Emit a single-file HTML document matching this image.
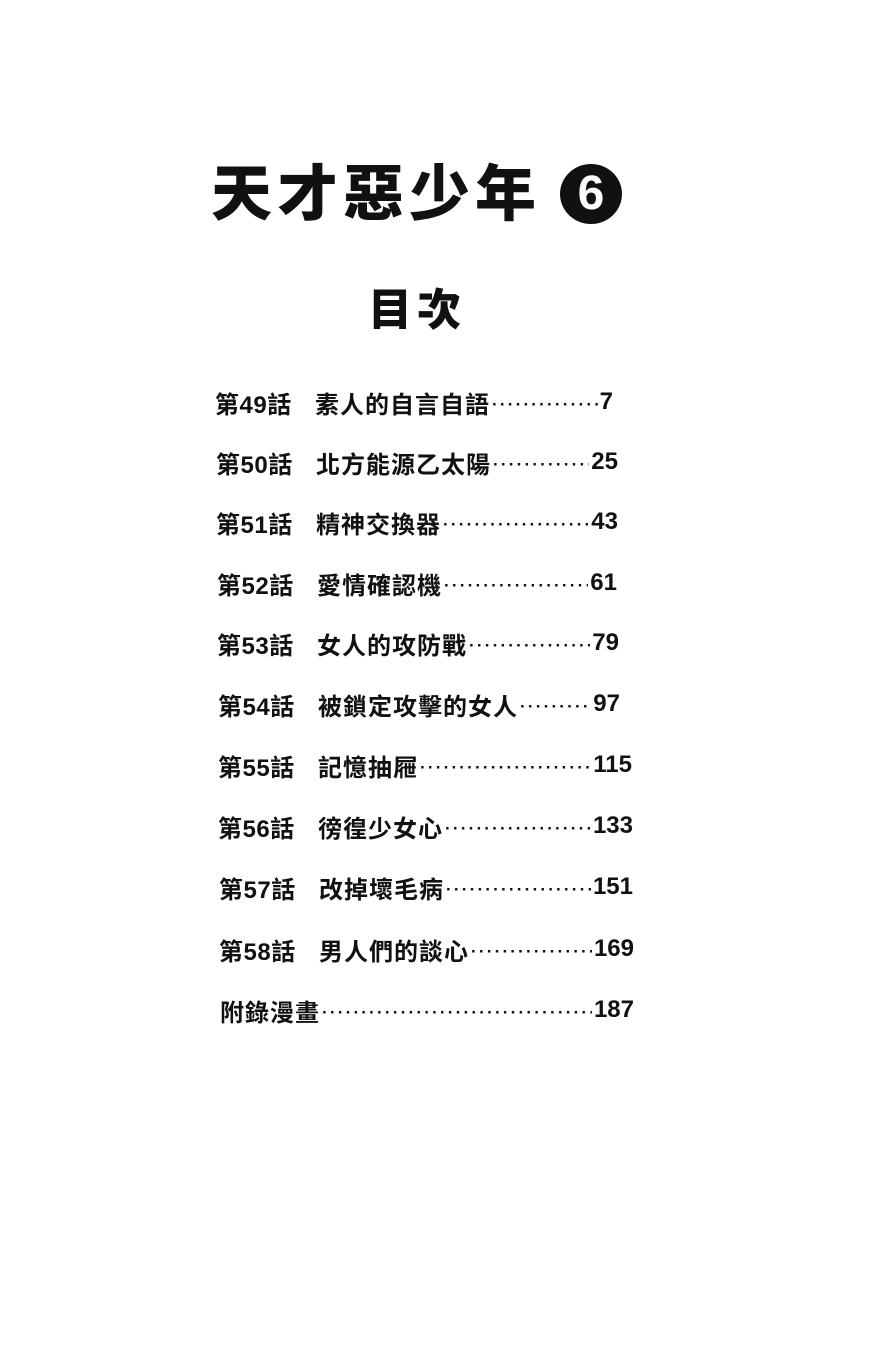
<!DOCTYPE html>
<html><head><meta charset="utf-8">
<style>
html,body{margin:0;padding:0;background:#fff;}
body{width:873px;height:1350px;position:relative;overflow:hidden;font-family:"Liberation Sans","Noto Sans CJK TC",sans-serif;color:#111;}
.t{position:absolute;font-weight:900;white-space:nowrap;}
.row{position:absolute;height:30px;display:flex;align-items:center;font-weight:700;font-size:24px;white-space:nowrap;}
.row .n{width:100px;flex:none;letter-spacing:0.5px;}
.row .c{letter-spacing:1px;}
.row .l{flex:1;overflow:hidden;font-size:17px;font-weight:900;letter-spacing:2.2px;margin:0 2px;line-height:30px;position:relative;top:3px;}
.row .p{flex:none;font-family:"Liberation Sans",sans-serif;}
</style></head><body>
<div class="t" style="left:211px;top:144px;font-size:61px;letter-spacing:5px;">天才惡少年</div>
<div style="position:absolute;left:560px;top:164px;width:62px;height:60px;border-radius:50%;background:#111;color:#fff;font-weight:900;font-size:48px;line-height:60px;text-align:center;font-family:'Liberation Sans',sans-serif;">6</div>
<div class="t" style="left:368px;top:274px;font-size:44px;letter-spacing:5px;">目次</div>

<div class="row" style="left:215px;top:387px;width:398px;"><span class="n">第49話</span><span class="c">素人的自言自語</span><span class="l">··································································</span><span class="p">7</span></div>
<div class="row" style="left:216px;top:447px;width:402px;"><span class="n">第50話</span><span class="c">北方能源乙太陽</span><span class="l">··································································</span><span class="p">25</span></div>
<div class="row" style="left:216px;top:507px;width:402px;"><span class="n">第51話</span><span class="c">精神交換器</span><span class="l">··································································</span><span class="p">43</span></div>
<div class="row" style="left:217px;top:568px;width:400px;"><span class="n">第52話</span><span class="c">愛情確認機</span><span class="l">··································································</span><span class="p">61</span></div>
<div class="row" style="left:217px;top:628px;width:402px;"><span class="n">第53話</span><span class="c">女人的攻防戰</span><span class="l">··································································</span><span class="p">79</span></div>
<div class="row" style="left:218px;top:689px;width:402px;"><span class="n">第54話</span><span class="c">被鎖定攻擊的女人</span><span class="l">··································································</span><span class="p">97</span></div>
<div class="row" style="left:218px;top:750px;width:414px;"><span class="n">第55話</span><span class="c">記憶抽屜</span><span class="l">··································································</span><span class="p">115</span></div>
<div class="row" style="left:218px;top:811px;width:415px;"><span class="n">第56話</span><span class="c">徬徨少女心</span><span class="l">··································································</span><span class="p">133</span></div>
<div class="row" style="left:219px;top:872px;width:414px;"><span class="n">第57話</span><span class="c">改掉壞毛病</span><span class="l">··································································</span><span class="p">151</span></div>
<div class="row" style="left:219px;top:934px;width:415px;"><span class="n">第58話</span><span class="c">男人們的談心</span><span class="l">··································································</span><span class="p">169</span></div>
<div class="row" style="left:220px;top:995px;width:414px;"><span class="c">附錄漫畫</span><span class="l">································································································</span><span class="p">187</span></div>
</body></html>
